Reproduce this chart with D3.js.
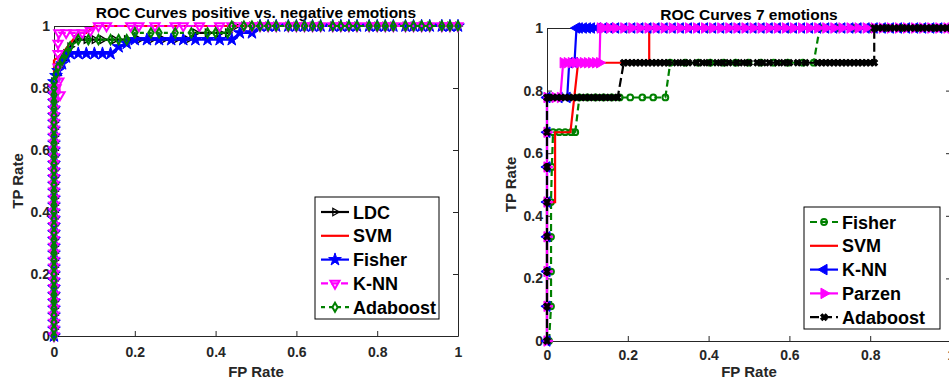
<!DOCTYPE html>
<meta charset="utf-8">
<style>
body { margin: 0; background: #fff; }
svg text { font-family: "Liberation Sans", Arial, sans-serif; font-weight: bold; }
</style>
<body>
<script src="https://cdn.jsdelivr.net/npm/d3@7"></script>
<script>

// ---------- data: positive vs. negative emotions ----------
// TPR values climbed at FPR = 0 (shared start of the curves)
var leftRise = [0, 0.022, 0.044, 0.067, 0.089, 0.111, 0.133, 0.156, 0.178, 0.2, 0.222, 0.244,
  0.267, 0.289, 0.311, 0.333, 0.356, 0.378, 0.4, 0.422, 0.444, 0.467, 0.489, 0.511, 0.533,
  0.556, 0.578, 0.6, 0.622, 0.644, 0.667, 0.689, 0.711, 0.733, 0.756, 0.778, 0.8];
// FPR values of the points lying on TPR = 1
var leftTop = [0.47, 0.49, 0.51, 0.53, 0.55, 0.58, 0.6, 0.62, 0.64, 0.66, 0.69, 0.71, 0.73,
  0.75, 0.78, 0.8, 0.82, 0.84, 0.87, 0.89, 0.91, 0.93, 0.96, 0.98, 1];

var ldcKnee = [[0, 0.82], [0.005, 0.84], [0.01, 0.867], [0.02, 0.889], [0.03, 0.911], [0.04, 0.933],
  [0.055, 0.956], [0.08, 0.956], [0.1, 0.956], [0.12, 0.956], [0.15, 0.956], [0.18, 0.956],
  [0.21, 0.956], [0.24, 0.956], [0.27, 0.956], [0.3, 0.956], [0.33, 0.956], [0.35, 0.978],
  [0.38, 0.978], [0.41, 0.978], [0.43, 0.978], [0.45, 1]];
var svmLeft = [[0, 0], [0, 0.889], [0.01, 0.9], [0.02, 0.911], [0.04, 0.944], [0.06, 0.978],
  [0.08, 0.978], [0.1, 1], [1, 1]];
var fisherKnee = [[0, 0.82], [0.005, 0.84], [0.01, 0.856], [0.02, 0.878], [0.03, 0.9], [0.04, 0.911],
  [0.06, 0.911], [0.08, 0.911], [0.1, 0.911], [0.12, 0.911], [0.14, 0.911], [0.16, 0.933],
  [0.18, 0.944], [0.2, 0.956], [0.23, 0.956], [0.26, 0.956], [0.29, 0.956], [0.32, 0.956],
  [0.35, 0.956], [0.38, 0.956], [0.41, 0.956], [0.44, 0.956], [0.46, 0.978], [0.49, 0.978], [0.51, 1]];
var knnKnee = [[0.005, 0.8], [0.015, 0.778], [0.012, 0.822], [0.01, 0.867], [0.01, 0.911],
  [0.01, 0.944], [0.012, 0.978], [0.03, 0.978], [0.05, 0.978], [0.07, 0.978], [0.09, 0.985],
  [0.11, 1], [0.13, 1], [0.19, 1], [0.21, 1], [0.25, 1], [0.3, 1], [0.32, 1], [0.36, 1],
  [0.41, 1], [0.44, 1]];
var adaKnee = [[0, 0.82], [0.005, 0.844], [0.01, 0.867], [0.02, 0.889], [0.03, 0.911], [0.04, 0.933],
  [0.06, 0.956], [0.085, 0.956], [0.11, 0.956], [0.14, 0.956], [0.16, 0.956], [0.18, 0.956],
  [0.2, 0.978], [0.24, 0.978], [0.26, 0.978], [0.3, 0.978], [0.34, 0.978], [0.38, 0.978],
  [0.4, 0.978], [0.43, 0.978], [0.44, 1]];

// ---------- data: 7 emotions ----------
var rightRise = [0, 0.111, 0.222, 0.333, 0.444, 0.556, 0.667, 0.778];
var rightTop = [0.08, 0.09, 0.1, 0.11, 0.125, 0.14, 0.155, 0.17, 0.19, 0.21, 0.23, 0.25, 0.27,
  0.29, 0.31, 0.33, 0.35, 0.37, 0.39, 0.41, 0.43, 0.45, 0.47, 0.49, 0.51, 0.53, 0.55, 0.57, 0.59,
  0.61, 0.63, 0.65, 0.67, 0.69, 0.71, 0.73, 0.75, 0.77, 0.79, 0.81, 0.83, 0.85, 0.87, 0.89, 0.91,
  0.93, 0.95, 0.97, 0.99, 1];

var fisher7 = [[0.005, 0], [0.01, 0.111], [0.01, 0.222], [0.01, 0.333], [0.01, 0.444], [0.012, 0.556],
  [0.015, 0.667], [0.03, 0.667], [0.045, 0.667], [0.06, 0.667], [0.07, 0.667], [0.08, 0.778],
  [0.1, 0.778], [0.12, 0.778], [0.14, 0.778], [0.16, 0.778], [0.18, 0.778], [0.206, 0.778],
  [0.236, 0.778], [0.263, 0.778], [0.293, 0.778], [0.305, 0.889], [0.342, 0.889], [0.375, 0.889],
  [0.404, 0.889], [0.437, 0.889], [0.467, 0.889], [0.499, 0.889], [0.529, 0.889], [0.561, 0.889],
  [0.596, 0.889], [0.633, 0.889], [0.66, 0.889], [0.675, 1], [0.72, 1], [0.76, 1], [0.8, 1],
  [0.84, 1], [0.88, 1], [0.92, 1], [0.96, 1], [1, 1]];
var svm7 = [[0, 0], [0, 0.444], [0.02, 0.444], [0.02, 0.667], [0.058, 0.667], [0.077, 0.889],
  [0.253, 0.889], [0.253, 1], [1, 1]];
var knn7Knee = [[0.03, 0.778], [0.05, 0.778], [0.055, 0.889], [0.068, 0.889], [0.073, 1]];
var parzen7Knee = [[0.02, 0.778], [0.033, 0.778], [0.04, 0.889], [0.05, 0.889], [0.06, 0.889],
  [0.07, 0.889], [0.08, 0.889], [0.09, 0.889], [0.1, 0.889], [0.11, 0.889], [0.12, 0.889],
  [0.13, 0.889], [0.132, 1]];
var ada7Row78 = [0.005, 0.015, 0.025, 0.035, 0.045, 0.055, 0.065, 0.075, 0.085, 0.095, 0.105,
  0.115, 0.125, 0.135, 0.145, 0.155, 0.165, 0.175];
var ada7Row89 = [0.19, 0.2, 0.21, 0.22, 0.23, 0.24, 0.25, 0.26, 0.27, 0.28, 0.29, 0.3, 0.32, 0.335,
  0.35, 0.37, 0.385, 0.4, 0.42, 0.435, 0.45, 0.47, 0.485, 0.5, 0.52, 0.535, 0.55, 0.57, 0.585, 0.6,
  0.62, 0.64, 0.67, 0.68, 0.69, 0.7, 0.71, 0.72, 0.73, 0.74, 0.75, 0.76, 0.77, 0.78, 0.79, 0.8, 0.81];
var ada7Row1 = [0.81, 0.82, 0.83, 0.84, 0.85, 0.86, 0.87, 0.88, 0.89, 0.9, 0.91, 0.92, 0.93, 0.94,
  0.95, 0.96, 0.97, 0.98, 0.99, 1];

var tickVals = [0, 0.2, 0.4, 0.6, 0.8, 1];

// helpers to join the pieces of a curve
function atZero(list) { return list.map(function(v) { return [0, v]; }); }
function onRow(list, tpr) { return list.map(function(v) { return [v, tpr]; }); }
function after(list, from) { return list.filter(function(v) { return v > from; }); }

var W = 949, H = 383;
var svg = d3.select("body").append("svg").attr("width", W).attr("height", H);
var axisColour = "#262626";

function drawPanel(p)
{
  var x = d3.scaleLinear().domain([0, 1]).range([p.left, p.right]);
  var y = d3.scaleLinear().domain([0, 1]).range([p.bottom, p.top]);
  var g = svg.append("g");

  // box with inward ticks
  var axes = [
    [d3.axisBottom(x).tickFormat(d3.format("~g")).tickPadding(p.xPad), "translate(0," + p.bottom + ")"],
    [d3.axisLeft(y).tickFormat(d3.format("~g")).tickPadding(4), "translate(" + p.left + ",0)"],
    [d3.axisTop(x).tickFormat(""), "translate(0," + p.top + ")"],
    [d3.axisRight(y).tickFormat(""), "translate(" + p.right + ",0)"]
  ];
  axes.forEach(function(a) {
    var ax = g.append("g").attr("transform", a[1])
      .call(a[0].tickValues(tickVals).tickSizeInner(-5).tickSizeOuter(0));
    ax.select(".domain").attr("stroke", axisColour);
    ax.selectAll(".tick line").attr("stroke", axisColour);
    ax.selectAll("text").attr("fill", axisColour).style("font-size", "14px")
      .style("font-family", "'Liberation Sans', Arial, sans-serif").style("font-weight", "bold");
  });

  g.append("text").attr("x", (p.left + p.right) / 2).attr("y", p.top - 8)
    .attr("text-anchor", "middle").style("font-size", "15.5px").attr("fill", "#000").text(p.title);
  g.append("text").attr("x", (p.left + p.right) / 2).attr("y", 377)
    .attr("text-anchor", "middle").style("font-size", "15px").attr("fill", axisColour).text("FP Rate");
  g.append("text").attr("transform", "translate(" + (p.left - 31) + "," + ((p.top + p.bottom) / 2) + ") rotate(-90)")
    .attr("text-anchor", "middle").style("font-size", "15px").attr("fill", axisColour).text("TP Rate");

  var line = d3.line().x(function(d) { return x(d[0]); }).y(function(d) { return y(d[1]); });

  p.series.forEach(function(s) {
    g.append("path").datum(s.data).attr("d", line)
      .attr("fill", "none").attr("stroke", s.color).attr("stroke-width", 2.2)
      .attr("stroke-dasharray", s.dash || null);
    if (s.marker) {
      g.selectAll(null).data(s.data).enter().append("path")
        .attr("d", d3.symbol().type(s.marker).size(s.size))
        .attr("transform", function(d) { return "translate(" + x(d[0]) + "," + y(d[1]) + ") rotate(" + (s.rot || 0) + ")"; })
        .attr("fill", s.fill).attr("stroke", s.color).attr("stroke-width", s.sw);
    }
  });

  // legend
  var lg = g.append("g");
  lg.append("rect").attr("x", p.legend.x).attr("y", p.legend.y)
    .attr("width", p.legend.w).attr("height", p.legend.h)
    .attr("fill", "#fff").attr("stroke", "#000").attr("stroke-width", 1);
  p.series.forEach(function(s, i) {
    var cy = p.legend.y + 15 + i * 23.8;
    var x0 = p.legend.x + 6, x1 = p.legend.x + 34;
    lg.append("line").attr("x1", x0).attr("x2", x1).attr("y1", cy).attr("y2", cy)
      .attr("stroke", s.color).attr("stroke-width", 2.2).attr("stroke-dasharray", s.dash || null);
    if (s.marker) {
      lg.append("path").attr("d", d3.symbol().type(s.marker).size(s.size))
        .attr("transform", "translate(" + ((x0 + x1) / 2) + "," + cy + ") rotate(" + (s.rot || 0) + ")")
        .attr("fill", s.fill).attr("stroke", s.color).attr("stroke-width", s.sw);
    }
    lg.append("text").attr("x", x1 + 4).attr("y", cy + 6.5)
      .style("font-size", "18px").attr("fill", "#000").text(s.name);
  });
}

drawPanel({
  left: 54, right: 458, top: 26, bottom: 336, xPad: 11,
  title: "ROC Curves positive vs. negative emotions",
  legend: { x: 315, y: 197, w: 124, h: 122 },
  series: [
    { name: "LDC", color: "#000", data: atZero(leftRise).concat(ldcKnee, onRow(after(leftTop, 0.45), 1)),
      marker: d3.symbolTriangle, rot: 90, size: 24, fill: "none", sw: 1.3 },
    { name: "SVM", color: "#ff0000", data: svmLeft },
    { name: "Fisher", color: "#0000ff", data: atZero(leftRise).concat(fisherKnee, onRow(after(leftTop, 0.51), 1)),
      marker: d3.symbolStar, size: 50, fill: "#0000ff", sw: 1 },
    { name: "K-NN", color: "#ff00ff", dash: "7,3", data: atZero(leftRise).concat(knnKnee, onRow(leftTop, 1)),
      marker: d3.symbolTriangle, rot: 180, size: 36, fill: "none", sw: 2 },
    { name: "Adaboost", color: "#008000", dash: "4,4", data: atZero(leftRise).concat(adaKnee, onRow(after(leftTop, 0.44), 1)),
      marker: d3.symbolDiamond, size: 24, fill: "none", sw: 2 }
  ]
});

drawPanel({
  left: 547, right: 951, top: 28, bottom: 341, xPad: 9,
  title: "ROC Curves 7 emotions",
  legend: { x: 804, y: 207, w: 136, h: 122 },
  series: [
    { name: "Fisher", color: "#008000", dash: "7,4", data: fisher7,
      marker: d3.symbolCircle, size: 26, fill: "none", sw: 2 },
    { name: "SVM", color: "#ff0000", data: svm7 },
    { name: "K-NN", color: "#0000ff", data: atZero(rightRise).concat(knn7Knee, onRow(rightTop, 1)),
      marker: d3.symbolTriangle, rot: -90, size: 48, fill: "#0000ff", sw: 1 },
    { name: "Parzen", color: "#ff00ff", data: atZero(rightRise).concat(parzen7Knee, onRow(after(rightTop, 0.13), 1)),
      marker: d3.symbolTriangle, rot: 90, size: 48, fill: "#ff00ff", sw: 1 },
    { name: "Adaboost", color: "#000", dash: "9,4",
      data: atZero(rightRise).concat(onRow(ada7Row78, 0.778), onRow(ada7Row89, 0.889), onRow(ada7Row1, 1)),
      marker: d3.symbolCross, rot: 45, size: 28, fill: "#000", sw: 1 }
  ]
});

</script>
</body>
